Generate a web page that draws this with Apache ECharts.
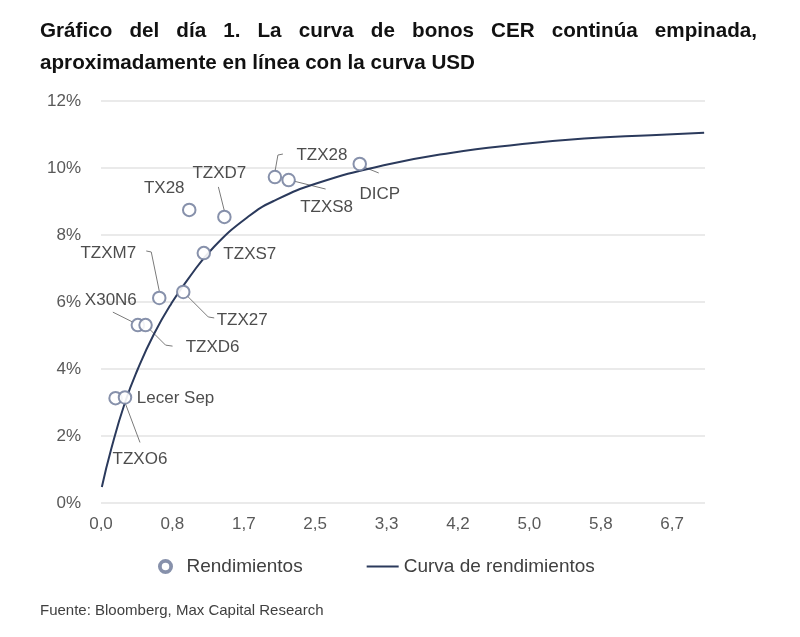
<!DOCTYPE html>
<html>
<head>
    <meta charset="utf-8">
    <title>Curva CER</title>
    <script src="https://cdn.jsdelivr.net/npm/echarts@6/dist/echarts.min.js"></script>
    <style>
        html, body { margin: 0; padding: 0; background: #fff; }
    </style>
</head>
<body>
    <div id="main" style="width: 800px;height:637px;"></div>
    <script type="text/javascript">
        // datos
        var bondNames = ['Lecer Sep', 'TZXO6', 'X30N6', 'TZXD6', 'TZXM7', 'TZX27', 'TZXS7', 'TX28', 'TZXD7', 'TZX28', 'TZXS8', 'DICP'];
        var bondDuration = [0.17, 0.28, 0.43, 0.52, 0.68, 0.96, 1.20, 1.03, 1.44, 2.03, 2.19, 3.02];
        var bondYield = [3.13, 3.15, 5.31, 5.31, 6.12, 6.30, 7.46, 8.75, 8.54, 9.73, 9.64, 10.12];

        var curveX = [0.01, 0.12, 0.28, 0.43, 0.62, 0.82, 1.02, 1.32, 1.72, 2.02, 2.53, 3.30, 4.08, 4.87, 5.64, 6.42, 7.04];
        var curveY = [0.48, 1.62, 3.00, 4.00, 5.05, 5.95, 6.70, 7.65, 8.55, 9.02, 9.55, 10.08, 10.45, 10.70, 10.88, 10.98, 11.05];

        var titleLine1 = 'Gráfico del día 1. La curva de bonos CER continúa empinada,';
        var titleLine2 = 'aproximadamente en línea con la curva USD';
        var sourceText = 'Fuente: Bloomberg, Max Capital Research';

        // desplazamiento de cada etiqueta respecto a su punto (px)
        var labelOffsets = [[60, 0], [15, 62], [-27, -25], [67, 22], [-51, -45], [59, 28], [46, 1], [-25, -22], [-5, -44], [47, -22], [38, 27], [20, 30]];
        // lineas guia (px respecto al punto), null = sin linea
        var guideLines = [
            null,
            [[0, 5], [15, 45]],
            [[-5, -3], [-25, -13]],
            [[4, 4], [20, 20], [27, 21]],
            [[0, -7], [-8, -46], [-13, -47]],
            [[4, 4], [25, 25], [31, 26]],
            null,
            null,
            [[0, -6], [-6, -30]],
            [[0, -5], [3, -22], [8, -23]],
            [[5, 1], [37, 9]],
            [[4, 3], [19, 9]]
        ];

        var myChart = echarts.init(document.getElementById('main'));

        // titulo: negrita comprimida horizontalmente, primera linea justificada
        var titleFont = 'bold 21px "Liberation Sans", Arial, sans-serif';
        var ctx = document.createElement('canvas').getContext('2d');
        ctx.font = titleFont;
        var sx = 435 / ctx.measureText(titleLine2).width;

        var words = titleLine1.split(' ');
        var widths = words.map(function (w) { return ctx.measureText(w).width * sx; });
        var total = widths.reduce(function (a, b) { return a + b; }, 0);
        var x0 = 40, x1 = 757;
        var gap = (x1 - x0 - total) / (words.length - 1);
        var graphics = [];
        var cx = x0;
        words.forEach(function (w, i) {
            graphics.push({
                type: 'text', x: cx, y: 21, scaleX: sx,
                style: { text: w, font: titleFont, fill: '#111', textVerticalAlign: 'top' }
            });
            cx += widths[i] + gap;
        });
        graphics.push({
            type: 'text', x: 40, y: 53, scaleX: sx,
            style: { text: titleLine2, font: titleFont, fill: '#111', textVerticalAlign: 'top' }
        });
        graphics.push({
            type: 'text', left: 40, top: 603,
            style: { text: sourceText, font: '15px "Liberation Sans", sans-serif', fill: '#404040' }
        });

        var scatterData = bondNames.map(function (n, i) {
            return {
                name: n,
                value: [bondDuration[i], bondYield[i]],
                label: { offset: labelOffsets[i] }
            };
        });

        var guideData = [];
        bondNames.forEach(function (n, i) {
            if (guideLines[i]) guideData.push([bondDuration[i], bondYield[i], i]);
        });

        var curveData = curveX.map(function (x, i) { return [x, curveY[i]]; });

        // icono de anillo grueso para la leyenda
        var ringIcon = 'path://M6,0 A6,6 0 1,1 5.99,0 Z M6,3 A3,3 0 1,0 6.01,3 Z';

        var option = {
            animation: false,
            textStyle: { fontFamily: '"Liberation Sans", Arial, sans-serif' },
            graphic: graphics,
            grid: { left: 101, right: 95, top: 101, bottom: 134 },
            legend: {
                left: 153, top: 552,
                itemGap: 64,
                itemWidth: 32, itemHeight: 15,
                textStyle: { fontSize: 19, color: '#404040' },
                data: [
                    { name: 'Rendimientos', icon: ringIcon, itemStyle: { color: '#7a85a2', borderWidth: 0 } },
                    { name: 'Curva de rendimientos', icon: 'path://M0,0 L32,0 L32,2.2 L0,2.2 Z', itemStyle: { color: '#2b3a5c' } }
                ]
            },
            xAxis: {
                type: 'value',
                min: 0, max: 7.05,
                interval: 5 / 6,
                axisLine: { show: false },
                axisTick: { show: false },
                splitLine: { show: false },
                axisLabel: {
                    fontSize: 17, color: '#595959', margin: 13,
                    showMaxLabel: false,
                    formatter: function (v) { return v.toFixed(1).replace('.', ','); }
                }
            },
            yAxis: {
                type: 'value',
                min: 0, max: 12, interval: 2,
                axisLine: { show: false },
                axisTick: { show: false },
                splitLine: { lineStyle: { color: '#e3e3e3', width: 1.5 } },
                axisLabel: {
                    fontSize: 17, color: '#595959', margin: 20,
                    formatter: '{value}%'
                }
            },
            series: [
                {
                    name: 'Curva de rendimientos',
                    type: 'line',
                    smooth: true,
                    symbol: 'none',
                    data: curveData,
                    lineStyle: { color: '#2b3a5c', width: 2 },
                    itemStyle: { color: '#2b3a5c' },
                    z: 3
                },
                {
                    name: 'guias',
                    type: 'custom',
                    data: guideData,
                    silent: true,
                    z: 2,
                    renderItem: function (params, api) {
                        var p = api.coord([api.value(0), api.value(1)]);
                        var g = guideLines[api.value(2)];
                        return {
                            type: 'polyline',
                            shape: { points: g.map(function (o) { return [p[0] + o[0], p[1] + o[1]]; }) },
                            style: { stroke: '#7a7a7a', lineWidth: 1, fill: null }
                        };
                    }
                },
                {
                    name: 'Rendimientos',
                    type: 'scatter',
                    symbol: 'emptyCircle',
                    symbolSize: 12.5,
                    data: scatterData,
                    itemStyle: { color: '#7a85a2', borderColor: '#7a85a2', borderWidth: 2.8, opacity: 0.9 },
                    label: {
                        show: true,
                        position: 'inside',
                        formatter: '{b}',
                        fontSize: 17,
                        color: '#3a3a3a'
                    },
                    z: 4
                }
            ]
        };

        myChart.setOption(option);
    </script>
</body>
</html>
